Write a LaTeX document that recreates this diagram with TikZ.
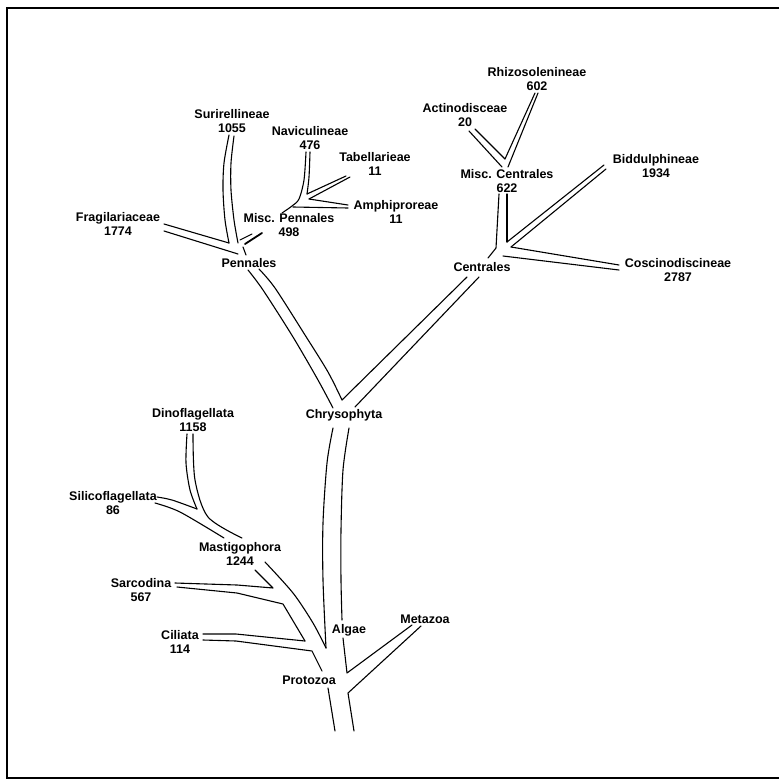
\documentclass[tikz,border=0pt]{standalone}
\usepackage{fontspec}
\setmainfont{Liberation Sans}
\begin{document}
\begin{tikzpicture}[x=1pt,y=-1pt,
  tube/.style={line width=1.1pt,line join=round,line cap=round},
  lbl/.style={font=\bfseries\fontsize{12.5}{14}\selectfont,align=center,inner sep=0pt}]
\useasboundingbox (0,0) rectangle (779,779);
\fill[white] (0,0) rectangle (779,779);
% frame
\draw[line width=1.6pt] (779,8) -- (7,8) -- (7,778) -- (779,778);

% labels
\node[lbl] (rhizo) at (537,79) {Rhizosolenineae\\602};
\node[lbl] (actino) at (465,115) {Actinodisceae\\20};
\node[lbl] (mcent) at (507,181) {Misc. Centrales\\622};
\node[lbl] (bidd) at (656,166) {Biddulphineae\\1934};
\node[lbl] (cosc) at (678,270) {Coscinodiscineae\\2787};
\node[lbl] (centr) at (482,267) {Centrales};
\node[lbl] (suri) at (232,121) {Surirellineae\\1055};
\node[lbl] (navi) at (310,138) {Naviculineae\\476};
\node[lbl] (tab) at (375,164) {Tabellarieae\\11};
\node[lbl] (amph) at (396,212) {Amphiproreae\\11};
\node[lbl] (mpenn) at (289,225) {Misc. Pennales\\498};
\node[lbl] (penn) at (249,263) {Pennales};
\node[lbl] (frag) at (118,224) {Fragilariaceae\\1774};
\node[lbl] (chry) at (344,415) {Chrysophyta};
\node[lbl] (dino) at (193,420) {Dinoflagellata\\1158};
\node[lbl] (sili) at (113,503) {Silicoflagellata\\86};
\node[lbl] (mast) at (240,554) {Mastigophora\\1244};
\node[lbl] (sarc) at (141,590) {Sarcodina\\567};
\node[lbl] (cili) at (180,642) {Ciliata\\114};
\node[lbl] (alg) at (349,630) {Algae};
\node[lbl] (meta) at (425,619) {Metazoa};
\node[lbl] (proto) at (309,680) {Protozoa};

% Pennales group
\draw[tube] plot[smooth] coordinates {(229,135) (224,163) (223,190) (225,220) (229,243)};
\draw[tube] plot[smooth] coordinates {(234,136) (231,163) (231,190) (234,220) (238,243)};
\draw[tube] (164,224) -- (229,243);
\draw[tube] (164,231) -- (238,254);
\draw[tube] (240,240) -- (252,234);
\draw[line width=1.8pt,line cap=round] (245,244) -- (262,233);
\draw[tube] (243,247) -- (246,255);
\draw[tube] plot[smooth] coordinates {(306,152) (304,180) (299,199) (292,206) (282,213)};
\draw[tube] plot[smooth] coordinates {(310,152) (309,177) (307,194)};
\draw[tube] (307,194) -- (346,176);
\draw[tube] (309,199) -- (350,177);
\draw[tube] (309,199) -- (348,205);
\draw[tube] (293,207) -- (348,208);

% Pennales -> Chrysophyta
\draw[tube] plot[smooth] coordinates {(248,270) (263,290) (293,337) (318,380) (333,408)};
\draw[tube] plot[smooth] coordinates {(259,269) (275,288) (305,335) (328,372) (342,400)};
% Centrales -> Chrysophyta
\draw[tube] (467,277) -- (342,400);
\draw[tube] (479,277) -- (355,407);

% Centrales group
\draw[tube] (535,93) -- (505,159);
\draw[tube] (538,93) -- (508,167);
\draw[tube] (475,129) -- (505,159);
\draw[tube] (469,131) -- (502,167);
\draw[tube] (499,194) -- (496,248) -- (488,258);
\draw[tube] (507,194) -- (507,242);
\draw[tube] (507,242) -- (604,165);
\draw[tube] (606,169) -- (511,247);
\draw[tube] (511,247) -- (619,265);
\draw[tube] (503,256) -- (619,270);

% trunk
\draw[tube] plot[smooth] coordinates {(333,428) (327,463) (323,523) (323,580) (326,648)};
\draw[tube] plot[smooth] coordinates {(349,428) (343,470) (341,530) (341,580) (342,620)};
\draw[tube] (343,638) -- (347,673) -- (412,625);
\draw[tube] (421,626) -- (348,693) -- (354,731);
\draw[tube] (328,688) -- (335,731);

% Protozoa side
\draw[tube] (203,640) -- (236,641) -- (312,651) -- (322,671);
\draw[tube] (203,634) -- (236,634) -- (305,641);
\draw[tube] (177,587) -- (237,593) -- (283,604) -- (305,641);
\draw[tube] (175,583) -- (237,585) -- (273,588) -- (255,570);
\draw[tube] plot[smooth] coordinates {(265,562) (293,593) (313,623) (326,648)};
\draw[tube] plot[smooth] coordinates {(157,497) (172,500) (197,509)};
\draw[tube] plot[smooth] coordinates {(187,434) (186,463) (190,490) (197,509)};
\draw[tube] plot[smooth] coordinates {(155,503) (180,512) (224,538)};
\draw[tube] plot[smooth] coordinates {(193,434) (195,480) (208,517) (242,538)};
\end{tikzpicture}
\end{document}
